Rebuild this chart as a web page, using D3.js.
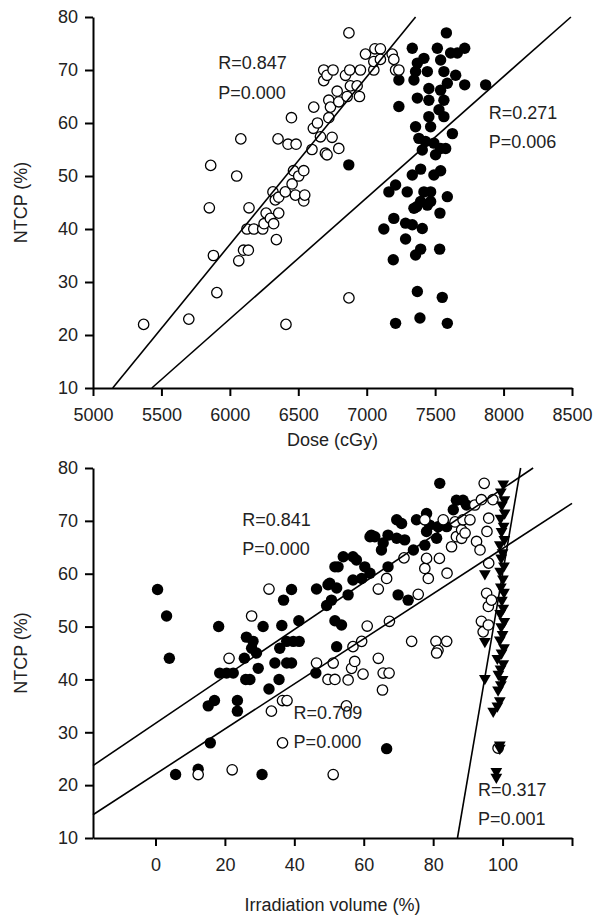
<!DOCTYPE html>
<html>
<head>
<meta charset="utf-8">
<script src="https://cdn.jsdelivr.net/npm/d3@7"></script>
<style>
  body { margin: 0; background: #fff; }
  svg text { font-family: "Liberation Sans", Arial, Helvetica, sans-serif; fill: #222; }
</style>
</head>
<body>
<div id="chart"></div>
<script>
// ---- top panel: dose vs NTCP ----
var doseTicks = [5000, 5500, 6000, 6500, 7000, 7500, 8000, 8500];
var ntcpTicks = [10, 20, 30, 40, 50, 60, 70, 80];

var doseOpen = [
  [5370,22],[5700,23],[5850,44],[5860,52],[5880,35],[5905,28],[6050,50],[6065,34],
  [6080,57],[6100,36],[6135,36],[6125,40],[6140,44],[6175,40],[6240,40],[6250,41],
  [6265,43],[6296,42],[6320,41],[6315,47],[6340,38],[6332,45.5],[6357,43],[6357,46],
  [6352,57],[6405,47],[6410,22],[6425,56],[6450,61],[6455,48.5],[6465,51],[6479,46.4],
  [6484,56],[6503,50],[6540,51],[6540,45.3],[6547,46.4],[6600,55],[6610,59],[6613,63],
  [6640,60],[6662,57.4],[6686,70],[6686,68],[6698,54.3],[6710,69],[6710,54],[6723,61],
  [6723,64.3],[6735,63],[6747,57.3],[6754,70],[6784,66],[6796,64],[6796,55.2],[6845,69],
  [6857,65],[6870,77],[6870,27],[6876,70],[6881,67],[6930,67],[6947,65],[6954,70],
  [6991,73],[7052,70],[7052,71.6],[7060,74],[7100,74],[7100,72],[7186,73],[7198,72],
  [7211,70],[7235,70]
];

var doseFilled = [
  [7582,77],[7333,74.1],[7516,74.1],[7613,73.2],[7662,73.2],[7716,74.1],[7418,72.2],
  [7370,71.3],[7540,71.9],[7357,69.7],[7443,69.7],[7564,69.7],[7650,69],[7345,68.1],
  [7589,67.5],[7716,67.2],[7869,67.2],[7235,68.1],[7235,63.1],[7454,66.5],[7540,66.2],
  [7370,64.7],[7454,64.3],[7564,64.3],[7528,62.5],[7454,61.2],[7564,61.2],[7357,59.3],
  [7467,59.3],[7626,58],[7381,57.1],[7430,56.5],[7491,56.2],[7540,55.2],[7577,55.2],
  [7406,54.9],[7503,54],[6869,52.1],[7333,50.2],[7394,51.3],[7491,50.2],[7540,51],
  [7162,47],[7211,48.3],[7296,47],[7418,47],[7467,47],[7589,46.1],[7394,45.2],[7467,45.2],
  [7365,44.2],[7443,44.5],[7535,43],[7345,43.9],[7198,42],[7284,41.1],[7333,40.8],
  [7406,40.1],[7125,40],[7284,38.1],[7394,36.2],[7357,35.1],[7533,36.2],[7194,34.2],
  [7370,28.2],[7552,27.1],[7211,22.2],[7389,23.2],[7589,22.2]
];

// fitted lines, end points
var doseFitOpen = [[5144,10],[7357,80]];
var doseFitFilled = [[5430,10],[8492,80]];

var doseNotes = [
  {x: 5915, y: 71.3, t: "R=0.847"},
  {x: 5915, y: 65.7, t: "P=0.000"},
  {x: 7891, y: 61.9, t: "R=0.271"},
  {x: 7891, y: 56.4, t: "P=0.006"}
];

// ---- bottom panel: irradiation volume vs NTCP ----
var volTicks = [0, 20, 40, 60, 80, 100, 120];

var volFilled = [
  [0.6,57],[3.2,52],[4,44],[5.8,22],[12.3,23],[15.2,35],[17,36],[15.8,28],[18.2,50],
  [18.5,41.2],[20.5,41.2],[22.4,41.2],[23.6,36],[23.6,34],[25.6,44],[26.2,48],[28.1,47.2],
  [27.7,45.9],[29.1,45],[26,40],[27.2,40],[29.6,42.1],[30.7,22],[31,50],[32.7,38.2],
  [34.4,43.1],[35.8,45.9],[35.6,40],[36.4,50.2],[36.9,55],[37.8,43.1],[39.2,43.1],
  [39.2,57],[37.8,47.2],[39.7,47.2],[41.4,47.2],[41.3,51.1],[46.4,57.1],[49.7,57.9],
  [50.7,55],[49.3,54],[51.7,61.3],[51.7,51.1],[52.2,46.2],[46.2,41.2],[50.2,58.2],
  [52.2,57.3],[52.6,61.3],[54.1,63.2],[56.9,63.2],[57.9,62.6],[55.5,56],[53.6,50.3],
  [56.9,58.8],[59.4,59.1],[60.3,61.3],[61.8,60.1],[61.8,67],[63.2,67],[62.2,67.3],
  [65.6,65.8],[65.1,64.5],[67,67.3],[67,61.3],[66.6,26.9],[69.5,70.2],[70.9,69.5],
  [69.5,66.7],[71.8,66.4],[69.9,56],[72.8,55],[74.3,64.5],[75.2,70.2],[77.6,65.4],
  [78.1,71.4],[78.1,68],[79,69.2],[81,66.7],[81.4,68.9],[83.9,68.9],[81.9,77.1],
  [85.8,72.1],[86.7,73.9],[88.6,73.9],[89.6,73]
];

var volOpen = [
  [12.3,22],[22.1,22.9],[21.2,44],[27.7,52],[32.7,57.1],[33.4,34],[36.6,36],[37.9,36],
  [36.6,28],[46.4,43.1],[49.7,40],[51.2,43.1],[51.7,40],[51.2,22],[55,35],[55.5,39.9],
  [56.5,42.1],[57.4,43.4],[56.9,46.2],[59.4,47.2],[59.8,41],[61,50.1],[64.2,44],
  [64.2,57.1],[65.4,38],[65.6,41.2],[67.3,41.2],[66.6,59.1],[67.4,51],[71.6,63],
  [73.8,47.2],[75.7,56.1],[77.6,61],[77.6,70.2],[78.1,62.9],[78.6,59.1],[80.8,47.2],
  [81.4,45.5],[81,45],[81.8,62.9],[82.9,70.2],[84,60.1],[83.9,47.2],[85.3,65.1],
  [86.3,69.8],[86.7,67],[88.2,68.3],[88.2,66.7],[88.6,70.2],[89.2,67.7],[90.6,70.2],
  [92,73],[92.5,66.1],[93.5,64.5],[93.9,74],[93.9,51],[94.4,49],[94.7,77.1],[95.4,56.3],
  [95.9,50.3],[95.9,53.8],[96.8,55],[98.7,27],[96,70.5],[97.2,74],[95.5,68],[96,62]
];

var volTri = [
  [100.2,77],[99.5,75.5],[100.5,74],[99.8,73],[100.6,71.5],[99.4,70.5],[100.3,69],
  [99.7,68],[100.5,66.5],[99.2,65.5],[100,64],[99.6,63],[100.4,61.5],[94.9,60],
  [99.3,60.5],[100.1,59],[99.5,57.5],[100.4,56.5],[99.8,55],[100.2,53.5],[99.3,52.5],
  [100.5,51],[99.6,50],[100,48.5],[94.9,47.2],[99.2,47.5],[100.4,46],[99.7,45],
  [98.5,44],[100.2,43],[99.4,42],[98.8,41],[94.9,40.2],[100,40],[99.5,39],[98.7,38],
  [99.2,36],[97.3,34],[98.5,35],[99.2,27.6],[99.2,27],[98.2,22.6],[98.2,21.5]
];

var volFitFilled = [[-18,23.7],[108.8,80]];
var volFitOpen = [[-18,14.4],[120,73.3]];
var volFitTri = [[87,10],[105.2,80]];

var volNotes = [
  {x: 25, y: 70.3, t: "R=0.841"},
  {x: 25, y: 64.8, t: "P=0.000"},
  {x: 39.8, y: 33.7, t: "R=0.709"},
  {x: 39.8, y: 28.3, t: "P=0.000"},
  {x: 92.9, y: 19.2, t: "R=0.317"},
  {x: 92.9, y: 13.7, t: "P=0.001"}
];

var width = 596, height = 915;
var svg = d3.select("#chart").append("svg")
    .attr("width", width)
    .attr("height", height);

function panel(opt) {
    var x = d3.scaleLinear().domain(opt.xDomain).range([93, 572]);
    var y = d3.scaleLinear().domain([10, 80]).range([opt.bottom, opt.top]);
    var g = svg.append("g");

    g.append("g")
        .attr("transform", "translate(0," + opt.bottom + ")")
        .call(d3.axisBottom(x).tickValues(opt.xTicks).tickSize(8).tickSizeOuter(0)
            .tickPadding(opt.xPad).tickFormat(opt.xFormat));
    g.append("g")
        .attr("transform", "translate(93,0)")
        .call(d3.axisLeft(y).tickValues(ntcpTicks).tickSize(8).tickSizeOuter(0).tickPadding(7));
    g.selectAll(".domain, .tick line").attr("stroke", "#000").attr("stroke-width", 2);
    g.selectAll(".tick text").attr("font-size", 18).attr("fill", "#222")
        .style("font-family", '"Liberation Sans", Arial, sans-serif');

    g.append("text")
        .attr("x", (93 + 572) / 2)
        .attr("y", opt.xTitleY)
        .attr("text-anchor", "middle")
        .attr("font-size", 18)
        .text(opt.xTitle);
    g.append("text")
        .attr("transform", "translate(27," + ((opt.top + opt.bottom) / 2) + ") rotate(-90)")
        .attr("text-anchor", "middle")
        .attr("font-size", 18)
        .text("NTCP (%)");

    var dots = g.append("g");
    opt.filled.forEach(function (set) {
        dots.selectAll(null).data(set).enter().append("circle")
            .attr("cx", function (d) { return x(d[0]); })
            .attr("cy", function (d) { return y(d[1]); })
            .attr("r", 5.7)
            .attr("fill", "#000");
    });
    dots.selectAll(null).data(opt.open).enter().append("circle")
        .attr("cx", function (d) { return x(d[0]); })
        .attr("cy", function (d) { return y(d[1]); })
        .attr("r", 5.2)
        .attr("fill", "#fff")
        .attr("stroke", "#000")
        .attr("stroke-width", 1.3);
    if (opt.tri) {
        dots.selectAll(null).data(opt.tri).enter().append("path")
            .attr("d", d3.symbol().type(d3.symbolTriangle).size(60))
            .attr("transform", function (d) {
                return "translate(" + x(d[0]) + "," + y(d[1]) + ") rotate(180)";
            })
            .attr("fill", "#000");
    }

    var line = d3.line().x(function (d) { return x(d[0]); }).y(function (d) { return y(d[1]); });
    opt.fits.forEach(function (f) {
        g.append("path").datum(f)
            .attr("d", line)
            .attr("fill", "none")
            .attr("stroke", "#000")
            .attr("stroke-width", 1.6);
    });

    g.selectAll(null).data(opt.notes).enter().append("text")
        .attr("x", function (d) { return x(d.x); })
        .attr("y", function (d) { return y(d.y); })
        .attr("dy", "0.35em")
        .attr("font-size", 18)
        .text(function (d) { return d.t; });
}

panel({
    xDomain: [5000, 8500], xTicks: doseTicks, xFormat: d3.format("d"), xPad: 12,
    top: 17, bottom: 388, xTitle: "Dose (cGy)", xTitleY: 446,
    filled: [doseFilled], open: doseOpen, fits: [doseFitOpen, doseFitFilled],
    notes: doseNotes
});

panel({
    xDomain: [-18, 120], xTicks: volTicks, xPad: 12,
    xFormat: function (d) { return d === 120 ? "" : d; },
    top: 468, bottom: 838, xTitle: "Irradiation volume (%)", xTitleY: 911,
    filled: [volFilled], open: volOpen, tri: volTri,
    fits: [volFitFilled, volFitOpen, volFitTri],
    notes: volNotes
});
</script>
</body>
</html>
